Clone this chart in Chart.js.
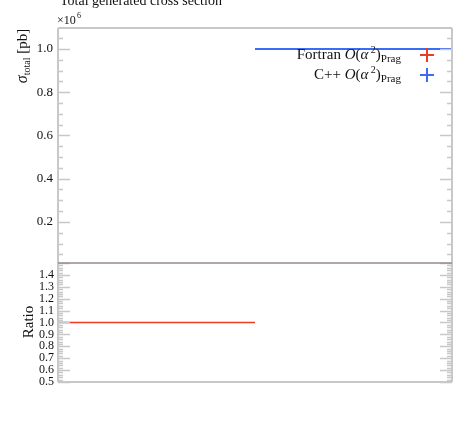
<!DOCTYPE html>
<html>
<head>
<meta charset="utf-8">
<script src="https://cdn.jsdelivr.net/npm/chart.js@4.4.0/dist/chart.umd.min.js"></script>
<style>
  body { margin: 0; background: #fff; }
  canvas { position: absolute; left: 0; top: 0; }
</style>
</head>
<body>
<canvas id="topCanvas" width="467" height="421"></canvas>
<canvas id="ratioCanvas" width="467" height="421"></canvas>
<script>
// bin edges (arbitrary units, no x labels in the plot)
var xsBinX = [1, 2];
var fortranXs = [1.0, 1.0];   // x10^6 pb
var cppXs = [1.0, 1.0];
var ratioBinX = [0, 1];
var ratioVals = [1.0, 1.0];
var xsTicks = [0.2, 0.4, 0.6, 0.8, 1.0];
var ratioTicks = [0.5, 0.6, 0.7, 0.8, 0.9, 1.0, 1.1, 1.2, 1.3, 1.4];

var serif = "'Liberation Serif', 'DejaVu Serif', serif";
var frameCol = '#c8c8c8';
var redCol = '#ee3a22';
var blueCol = '#3c6cf5';

function pts(xs, ys) {
  var out = [];
  for (var i in xs) out.push({x: xs[i], y: ys[i]});
  return out;
}

// frame + inward ticks on both sides
function axisDeco(majorStep, minorStep, majorLen, minorLen) {
  return {
    id: 'axisDeco',
    afterDatasetsDraw: function(chart) {
      var ctx = chart.ctx, a = chart.chartArea, y = chart.scales.y;
      ctx.save();
      ctx.strokeStyle = frameCol;
      ctx.lineWidth = 1.5;
      var start = Math.ceil(y.min / minorStep - 1e-6) * minorStep;
      for (var v = start; v <= y.max + 1e-9; v += minorStep) {
        var isMajor = Math.abs(v / majorStep - Math.round(v / majorStep)) < 1e-6;
        var len = isMajor ? majorLen : minorLen;
        var py = Math.round(y.getPixelForValue(v)) + 0.5;
        ctx.beginPath();
        ctx.moveTo(a.left, py); ctx.lineTo(a.left + len, py);
        ctx.moveTo(a.right, py); ctx.lineTo(a.right - len, py);
        ctx.stroke();
      }
      ctx.lineWidth = 2;
      ctx.beginPath();
      ctx.moveTo(a.left, a.top); ctx.lineTo(a.left, a.bottom);
      ctx.moveTo(a.right, a.top); ctx.lineTo(a.right, a.bottom);
      ctx.stroke();
      ctx.restore();
    }
  };
}

var topTexts = {
  id: 'topTexts',
  afterDraw: function(chart) {
    var ctx = chart.ctx, a = chart.chartArea;
    ctx.save();
    ctx.fillStyle = '#111';
    ctx.font = '14px ' + serif;
    ctx.textAlign = 'left';
    ctx.textBaseline = 'alphabetic';
    ctx.fillText('Total generated cross section', 60, 5);
    // x10^6
    ctx.font = '12px ' + serif;
    ctx.fillText('\u00d710', 57, 24);
    ctx.font = '8px ' + serif;
    ctx.fillText('6', 77, 18);
    // top border
    ctx.strokeStyle = frameCol;
    ctx.lineWidth = 2;
    ctx.beginPath(); ctx.moveTo(a.left, a.top); ctx.lineTo(a.right, a.top); ctx.stroke();
    // y title
    ctx.translate(23, 56);
    ctx.rotate(-Math.PI / 2);
    ctx.textAlign = 'left';
    ctx.font = 'italic 16px ' + serif;
    var w1 = ctx.measureText('\u03c3').width;
    ctx.font = '10px ' + serif;
    var w2 = ctx.measureText('total').width;
    ctx.font = '15px ' + serif;
    var w3 = ctx.measureText(' [pb]').width;
    var x0 = -(w1 + w2 + w3) / 2;
    ctx.font = 'italic 16px ' + serif;
    ctx.fillText('\u03c3', x0, 4);
    ctx.font = '10px ' + serif;
    ctx.fillText('total', x0 + w1, 7);
    ctx.font = '15px ' + serif;
    ctx.fillText(' [pb]', x0 + w1 + w2, 4);
    ctx.restore();

    // legend
    var rows = [
      {name: 'Fortran ', col: redCol, base: 59, my: 55},
      {name: 'C++ ', col: blueCol, base: 79, my: 75}
    ];
    ctx.save();
    ctx.fillStyle = '#111';
    rows.forEach(function(r) {
      var parts = [
        {t: r.name, f: '15px ' + serif, dy: 0},
        {t: 'O', f: 'italic 15px ' + serif, dy: 0},
        {t: '(', f: '15px ' + serif, dy: 0},
        {t: '\u03b1', f: 'italic 15px ' + serif, dy: 0},
        {t: ' 2', f: '10px ' + serif, dy: -6},
        {t: ')', f: '15px ' + serif, dy: 0},
        {t: 'Prag', f: '11px ' + serif, dy: 3}
      ];
      var total = 0;
      parts.forEach(function(p) { ctx.font = p.f; p.w = ctx.measureText(p.t).width; total += p.w; });
      var x = 401 - total;
      ctx.textAlign = 'left';
      parts.forEach(function(p) { ctx.font = p.f; ctx.fillText(p.t, x, r.base + p.dy); x += p.w; });
      ctx.strokeStyle = r.col;
      ctx.lineWidth = 2;
      ctx.beginPath();
      ctx.moveTo(420, r.my); ctx.lineTo(434, r.my);
      ctx.moveTo(427, r.my - 7); ctx.lineTo(427, r.my + 7);
      ctx.stroke();
    });
    ctx.restore();
  }
};

var ratioTexts = {
  id: 'ratioTexts',
  afterDraw: function(chart) {
    var ctx = chart.ctx, a = chart.chartArea;
    ctx.save();
    ctx.strokeStyle = frameCol;
    ctx.lineWidth = 2;
    ctx.beginPath(); ctx.moveTo(a.left, a.bottom); ctx.lineTo(a.right, a.bottom); ctx.stroke();
    ctx.strokeStyle = '#9a8888';
    ctx.lineWidth = 1.5;
    ctx.beginPath(); ctx.moveTo(a.left, a.top); ctx.lineTo(a.right, a.top); ctx.stroke();
    ctx.fillStyle = '#111';
    ctx.font = '15px ' + serif;
    ctx.translate(29, 322);
    ctx.rotate(-Math.PI / 2);
    ctx.textAlign = 'center';
    ctx.fillText('Ratio', 0, 4);
    ctx.restore();
  }
};

function fixWidth(scale) { scale.width = 58; }

new Chart(document.getElementById('topCanvas'), {
  type: 'line',
  data: {
    datasets: [
      {label: 'Fortran', data: pts(xsBinX, fortranXs), borderColor: redCol, borderWidth: 1, pointRadius: 0, order: 1},
      {label: 'C++', data: pts(xsBinX, cppXs), borderColor: blueCol, borderWidth: 2, pointRadius: 0, order: 0}
    ]
  },
  options: {
    responsive: false,
    animation: false,
    layout: {padding: {left: 0, right: 15, top: 28, bottom: 158}},
    plugins: {legend: {display: false}, tooltip: {enabled: false}},
    scales: {
      x: {type: 'linear', min: 0, max: 2, display: false},
      y: {
        min: 0.01, max: 1.097,
        afterFit: fixWidth,
        afterBuildTicks: function(s) { s.ticks = xsTicks.map(function(v) { return {value: v}; }); },
        grid: {display: false, drawTicks: false},
        border: {display: false},
        ticks: {
          padding: 5, color: '#111', autoSkip: false,
          font: {family: serif, size: 13},
          callback: function(v) { return v.toFixed(1); }
        }
      }
    }
  },
  plugins: [axisDeco(0.2, 0.05, 12, 5), topTexts]
});

new Chart(document.getElementById('ratioCanvas'), {
  type: 'line',
  data: {
    datasets: [
      {label: 'Ratio', data: pts(ratioBinX, ratioVals), borderColor: redCol, borderWidth: 1.5, pointRadius: 0}
    ]
  },
  options: {
    responsive: false,
    animation: false,
    layout: {padding: {left: 0, right: 15, top: 263, bottom: 39}},
    plugins: {legend: {display: false}, tooltip: {enabled: false}},
    scales: {
      x: {type: 'linear', min: 0, max: 2, display: false},
      y: {
        min: 0.5, max: 1.5,
        afterFit: fixWidth,
        afterBuildTicks: function(s) { s.ticks = ratioTicks.map(function(v) { return {value: v}; }); },
        grid: {display: false, drawTicks: false},
        border: {display: false},
        ticks: {
          padding: 4, color: '#111', autoSkip: false,
          font: {family: serif, size: 12},
          callback: function(v) { return v.toFixed(1); }
        }
      }
    }
  },
  plugins: [axisDeco(0.1, 0.02, 12, 5), ratioTexts]
});
</script>
</body>
</html>
